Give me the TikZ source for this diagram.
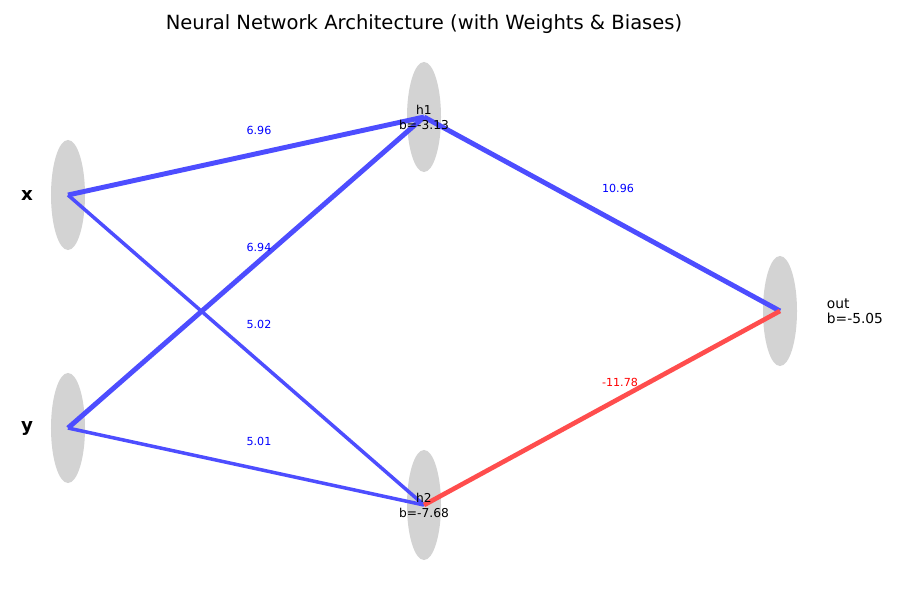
\documentclass[tikz,border=0pt]{standalone}
\usepackage{fontspec}
\setmainfont{DejaVu Sans}
\usetikzlibrary{positioning, shapes.geometric}
\usepackage{xcolor}
\definecolor{posw}{RGB}{77,77,255}
\definecolor{negw}{RGB}{255,77,77}
\definecolor{neuron}{RGB}{211,211,211}

\begin{document}
\begin{tikzpicture}[
x=0.025cm, y=-0.025cm,
neuron/.style={ellipse, fill=neuron, minimum width=0.85cm,
minimum height=2.75cm, inner sep=0pt},
hname/.style={align=center, inner sep=0pt,
font=\fontsize{8.7}{10.6}\selectfont},
inname/.style={font=\fontsize{13}{15}\selectfont\bfseries},
wlabel/.style={font=\fontsize{7.9}{9}\selectfont, text=blue},
poswire/.style={draw=posw, line width=#1},
negwire/.style={draw=negw, line width=#1}
]
\useasboundingbox (0,0) rectangle (900,600);

\node[font=\fontsize{13.9}{16}\selectfont] (title) at (424,24) {Neural Network Architecture (with Weights \& Biases)};

\node[neuron] (x) at (68,195) {};
\node[neuron] (y) at (68,428) {};
\node[neuron] (h1) at (424,117) {};
\node[neuron] (h2) at (424,505) {};
\node[neuron] (out) at (780,311) {};

\node[inname] (xname) at (27,195) {x};
\node[inname] (yname) at (27,428) {y};
\node[anchor=west, align=left, font=\fontsize{9.8}{10.6}\selectfont] (outname) at (822,311) {out\\b=-5.05};

\draw[poswire=3.5pt] (x.center) -- (h1.center);
\draw[poswire=2.5pt] (x.center) -- (h2.center);
\draw[poswire=3.5pt] (y.center) -- (h1.center);
\draw[poswire=2.5pt] (y.center) -- (h2.center);
\draw[poswire=3.5pt] (h1.center) -- (out.center);
\draw[negwire=3.3pt] (h2.center) -- (out.center);

\node[hname] (h1name) at (h1) {h1\\b=-3.13};
\node[hname] (h2name) at (h2) {h2\\b=-7.68};

\node[wlabel] (w1) at (259,130) {6.96};
\node[wlabel] (w2) at (259,247) {6.94};
\node[wlabel] (w3) at (259,324) {5.02};
\node[wlabel] (w4) at (259,441) {5.01};
\node[wlabel] (w5) at (618,188) {10.96};
\node[wlabel, text=red] (w6) at (620,382) {-11.78};

\end{tikzpicture}
\end{document}
